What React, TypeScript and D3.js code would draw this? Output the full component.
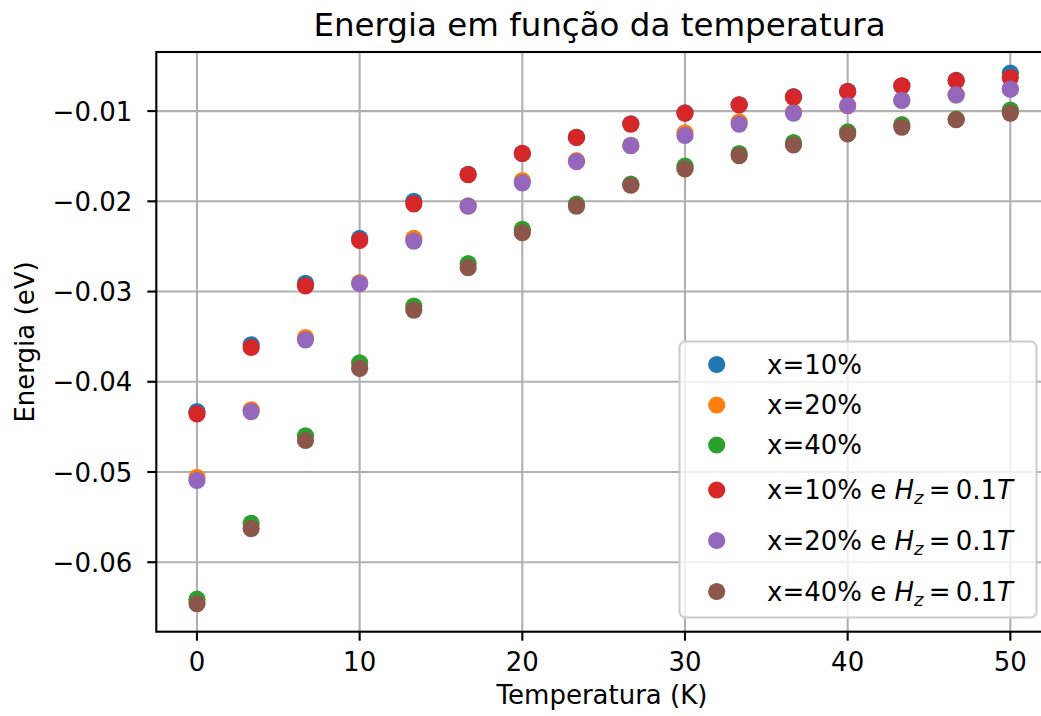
import React from "react";
import * as d3 from "d3";

const temps = [0, 3.33, 6.67, 10, 13.33, 16.67, 20, 23.33, 26.67, 30, 33.33, 36.67, 40, 43.33, 46.67, 50];

const x10 = [-0.0433, -0.0359, -0.0291, -0.0241, -0.0200, -0.0170, -0.0147, -0.0129, -0.0114, -0.0102, -0.0093, -0.0084, -0.0078, -0.0072, -0.0066, -0.0058];
const x20 = [-0.0506, -0.0431, -0.0351, -0.0290, -0.0241, -0.0205, -0.0177, -0.0155, -0.0138, -0.0124, -0.0112, -0.0101, -0.0094, -0.0088, -0.0082, -0.0075];
const x40 = [-0.0641, -0.0557, -0.0460, -0.0379, -0.0316, -0.0269, -0.0231, -0.0203, -0.0181, -0.0161, -0.0147, -0.0135, -0.0123, -0.0115, -0.0109, -0.0099];
const x10H = [-0.04356, -0.0362, -0.02938, -0.02433, -0.02028, -0.01704, -0.01468, -0.01291, -0.01144, -0.01022, -0.0093, -0.00845, -0.00783, -0.0072, -0.00662, -0.00629];
const x20H = [-0.05093, -0.0433, -0.03535, -0.02912, -0.02441, -0.02054, -0.01796, -0.0156, -0.01383, -0.0127, -0.01144, -0.01022, -0.0094, -0.00882, -0.0082, -0.00757];
const x40H = [-0.0646, -0.05627, -0.04651, -0.03851, -0.03205, -0.02735, -0.02348, -0.02054, -0.01822, -0.01641, -0.01494, -0.01376, -0.01254, -0.01177, -0.01096, -0.01022];

const seriesNames = ["x=10%", "x=20%", "x=40%", "x=10% e ", "x=20% e ", "x=40% e "];
const seriesData = [x10, x20, x40, x10H, x20H, x40H];
const seriesColors = ["#1f77b4", "#ff7f0e", "#2ca02c", "#d62728", "#9467bd", "#8c564b"];
const hasField = [false, false, false, true, true, true];

const xTicks = [0, 10, 20, 30, 40, 50];
const yTicks = [-0.06, -0.05, -0.04, -0.03, -0.02, -0.01];

const W = 1041;
const H = 716;
const FONT = "'DejaVu Sans', sans-serif";

export default function App() {
  const plotLeft = 156.3;
  const plotRight = 1051;
  const plotTop = 52;
  const plotBottom = 631.7;
  const x = d3.scaleLinear().domain([-2.5, 52.5]).range([plotLeft, plotRight]);
  const y = d3.scaleLinear().domain([-0.0677, -0.00345]).range([plotBottom, plotTop]);
  const fmt = (v: number) => d3.format(".2f")(v).replace("-", "\u2212");
  const r = 8.6;
  const gridW = 2.1;
  const legRows = [364.5, 405, 445, 490, 540.5, 591.5];

  return (
    <svg width={W} height={H} style={{ position: "absolute", left: 0, top: 0, background: "#fff" }} fontFamily={FONT}>
      <rect x={0} y={0} width={W} height={H} fill="#fff" />
      {/* grid */}
      {xTicks.map((t) => (
        <line key={"gx" + t} x1={x(t)} x2={x(t)} y1={plotTop} y2={plotBottom} stroke="#b0b0b0" strokeWidth={gridW} />
      ))}
      {yTicks.map((t) => (
        <line key={"gy" + t} x1={plotLeft} x2={plotRight} y1={y(t)} y2={y(t)} stroke="#b0b0b0" strokeWidth={gridW} />
      ))}
      {/* points */}
      {seriesData.map((s, si) => (
        <g key={"s" + si} fill={seriesColors[si]}>
          {s.map((v, i) => (
            <circle key={i} cx={x(temps[i])} cy={y(v)} r={r} />
          ))}
        </g>
      ))}
      {/* spines */}
      <rect x={plotLeft} y={plotTop} width={plotRight - plotLeft} height={plotBottom - plotTop} fill="none" stroke="#000" strokeWidth={2.1} />
      {/* x ticks */}
      {xTicks.map((t) => (
        <g key={"xt" + t}>
          <line x1={x(t)} x2={x(t)} y1={plotBottom} y2={plotBottom + 9} stroke="#000" strokeWidth={2.1} />
          <text x={x(t)} y={671} textAnchor="middle" fontSize={26} fill="#000">{t}</text>
        </g>
      ))}
      {/* y ticks */}
      {yTicks.map((t) => (
        <g key={"yt" + t}>
          <line x1={plotLeft - 9} x2={plotLeft} y1={y(t)} y2={y(t)} stroke="#000" strokeWidth={2.1} />
          <text x={plotLeft - 24} y={y(t) + 9.5} textAnchor="end" fontSize={26} fill="#000">{fmt(t)}</text>
        </g>
      ))}
      {/* labels */}
      <text x={599.5} y={36} textAnchor="middle" fontSize={32.5} fill="#000">Energia em função da temperatura</text>
      <text x={602} y={704} textAnchor="middle" fontSize={26} fill="#000">Temperatura (K)</text>
      <text transform={`translate(34,342) rotate(-90)`} textAnchor="middle" fontSize={26} fill="#000">Energia (eV)</text>
      {/* legend */}
      <rect x={679.5} y={341.5} width={357} height={276} rx={6} ry={6} fill="#fff" fillOpacity={0.8} stroke="#cccccc" strokeWidth={2.1} />
      {seriesNames.map((n, i) => (
        <g key={"lg" + i}>
          <circle cx={716.7} cy={legRows[i]} r={r} fill={seriesColors[i]} />
          <text x={767} y={legRows[i] + 9} fontSize={26} fill="#000">
            {n}
            {hasField[i] && (
              <>
                <tspan fontStyle="italic">H</tspan>
                <tspan fontStyle="italic" fontSize={18} dy={5}>z</tspan>
                <tspan dy={-5}>{"\u2009=\u20090.1"}</tspan>
                <tspan fontStyle="italic">T</tspan>
              </>
            )}
          </text>
        </g>
      ))}
    </svg>
  );
}
